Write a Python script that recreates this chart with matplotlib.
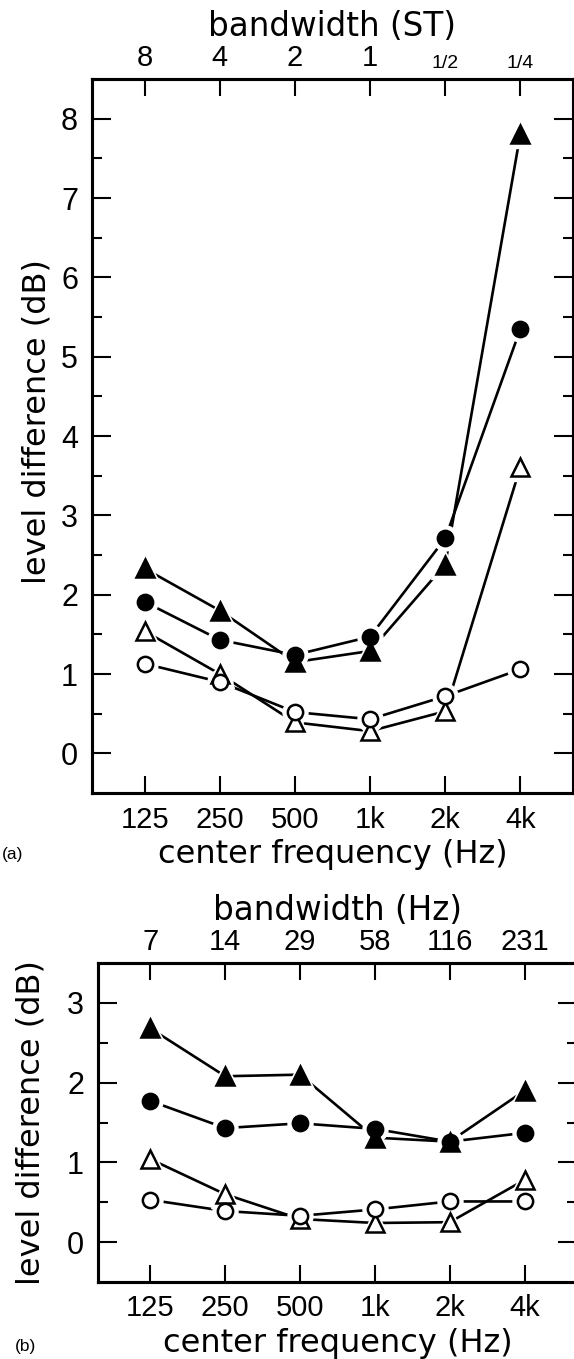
import matplotlib
matplotlib.use("Agg")
import matplotlib.pyplot as plt
import numpy as np

plt.rcParams.update({"font.family": "DejaVu Sans"})
NUM_FONT = "Liberation Sans"

# center frequencies, shared by both panels
freq_labels = ["125", "250", "500", "1k", "2k", "4k"]
bw_st_labels = ["8", "4", "2", "1", "1/2", "1/4"]
bw_hz_labels = ["7", "14", "29", "58", "116", "231"]

# panel (a): constant bandwidth in semitones
a_filled_tri = [2.33, 1.80, 1.15, 1.29, 2.38, 7.81]
a_filled_circ = [1.91, 1.43, 1.24, 1.47, 2.71, 5.35]
a_open_tri = [1.54, 1.00, 0.39, 0.28, 0.53, 3.61]
a_open_circ = [1.13, 0.90, 0.52, 0.43, 0.72, 1.06]

# panel (b): constant bandwidth in Hz
b_filled_tri = [2.68, 2.08, 2.10, 1.31, 1.26, 1.90]
b_filled_circ = [1.77, 1.43, 1.49, 1.42, 1.26, 1.37]
b_open_tri = [1.04, 0.60, 0.29, 0.24, 0.25, 0.78]
b_open_circ = [0.53, 0.39, 0.33, 0.41, 0.51, 0.51]

W, H = 574, 1359
fig = plt.figure(figsize=(W / 100, H / 100), dpi=100)


def px_box(left, top, right, bottom):
    return [left / W, 1 - bottom / H, (right - left) / W, (bottom - top) / H]


def draw_series(ax, x, y, marker, filled, ms):
    ax.plot(x, y, color="black", lw=1.9, zorder=1, clip_on=False)
    ax.plot(x, y, ls="none", marker=marker, ms=ms + 7, mfc="white", mec="white",
            zorder=2, clip_on=False)
    ax.plot(x, y, ls="none", marker=marker, ms=ms,
            mfc="black" if filled else "white", mec="black", mew=1.8,
            zorder=3, clip_on=False)


def style_panel(ax, ymax, top_labels, top_label_sizes, top_title):
    x = np.arange(len(freq_labels))
    ax.set_xlim(-0.7, 5.7)
    ax.set_ylim(-0.5, ymax)
    ax.set_xticks(x)
    ax.set_xticklabels(freq_labels, fontfamily=NUM_FONT)
    ax.set_yticks(np.arange(0, int(ymax) + 1))
    ax.set_yticks(np.arange(0.5, ymax - 0.5, 1.0), minor=True)
    for lab in ax.get_yticklabels():
        lab.set_fontfamily(NUM_FONT)
    for s in ax.spines.values():
        s.set_linewidth(2.2)
    top = ax.twiny()
    top.set_xlim(ax.get_xlim())
    top.set_xticks(x)
    top.set_xticklabels(top_labels, fontfamily=NUM_FONT)
    for lab, sz in zip(top.get_xticklabels(), top_label_sizes):
        lab.set_fontsize(sz)
    top.tick_params(axis="x", direction="in", length=12.5, width=1.5, pad=5)
    top.set_xlabel(top_title, fontsize=23.5, labelpad=6)
    for s in top.spines.values():
        s.set_linewidth(2.2)
    ax.tick_params(axis="x", which="both", direction="in", length=12.5, width=1.5,
                   labelsize=21, pad=9, top=False)
    ax.tick_params(axis="y", which="major", direction="in", length=13.5, width=1.5,
                   labelsize=22, pad=10, left=True, right=True)
    ax.tick_params(axis="y", which="minor", direction="in", length=7, width=1.5,
                   left=True, right=True)
    ax.set_xlabel("center frequency (Hz)", fontsize=23, labelpad=4)
    ax.set_ylabel("level difference (dB)", fontsize=23)
    return x


# panel (a)
ax_a = fig.add_axes(px_box(92, 79, 573, 793))
xa = style_panel(ax_a, 8.5, bw_st_labels, [21, 21, 21, 21, 14, 14], "bandwidth (ST)")
draw_series(ax_a, xa, a_filled_tri, "^", True, 12.5)
draw_series(ax_a, xa, a_filled_circ, "o", True, 11)
draw_series(ax_a, xa, a_open_tri, "^", False, 12.5)
draw_series(ax_a, xa, a_open_circ, "o", False, 11)
ax_a.yaxis.set_label_coords(-0.082, 0.52)

# panel (b)
ax_b = fig.add_axes(px_box(98, 963, 577, 1282))
xb = style_panel(ax_b, 3.5, bw_hz_labels, [21] * 6, "bandwidth (Hz)")
draw_series(ax_b, xb, b_filled_tri, "^", True, 12.5)
draw_series(ax_b, xb, b_filled_circ, "o", True, 11)
draw_series(ax_b, xb, b_open_tri, "^", False, 12.5)
draw_series(ax_b, xb, b_open_circ, "o", False, 11)
ax_b.yaxis.set_label_coords(-0.108, 0.5)

fig.text(13 / W, 1 - 855 / H, "(a)", fontsize=12.5, fontfamily=NUM_FONT,
         ha="center", va="center")
fig.text(26 / W, 1 - 1347 / H, "(b)", fontsize=12.5, fontfamily=NUM_FONT,
         ha="center", va="center")

fig.savefig("out.png", dpi=100)
